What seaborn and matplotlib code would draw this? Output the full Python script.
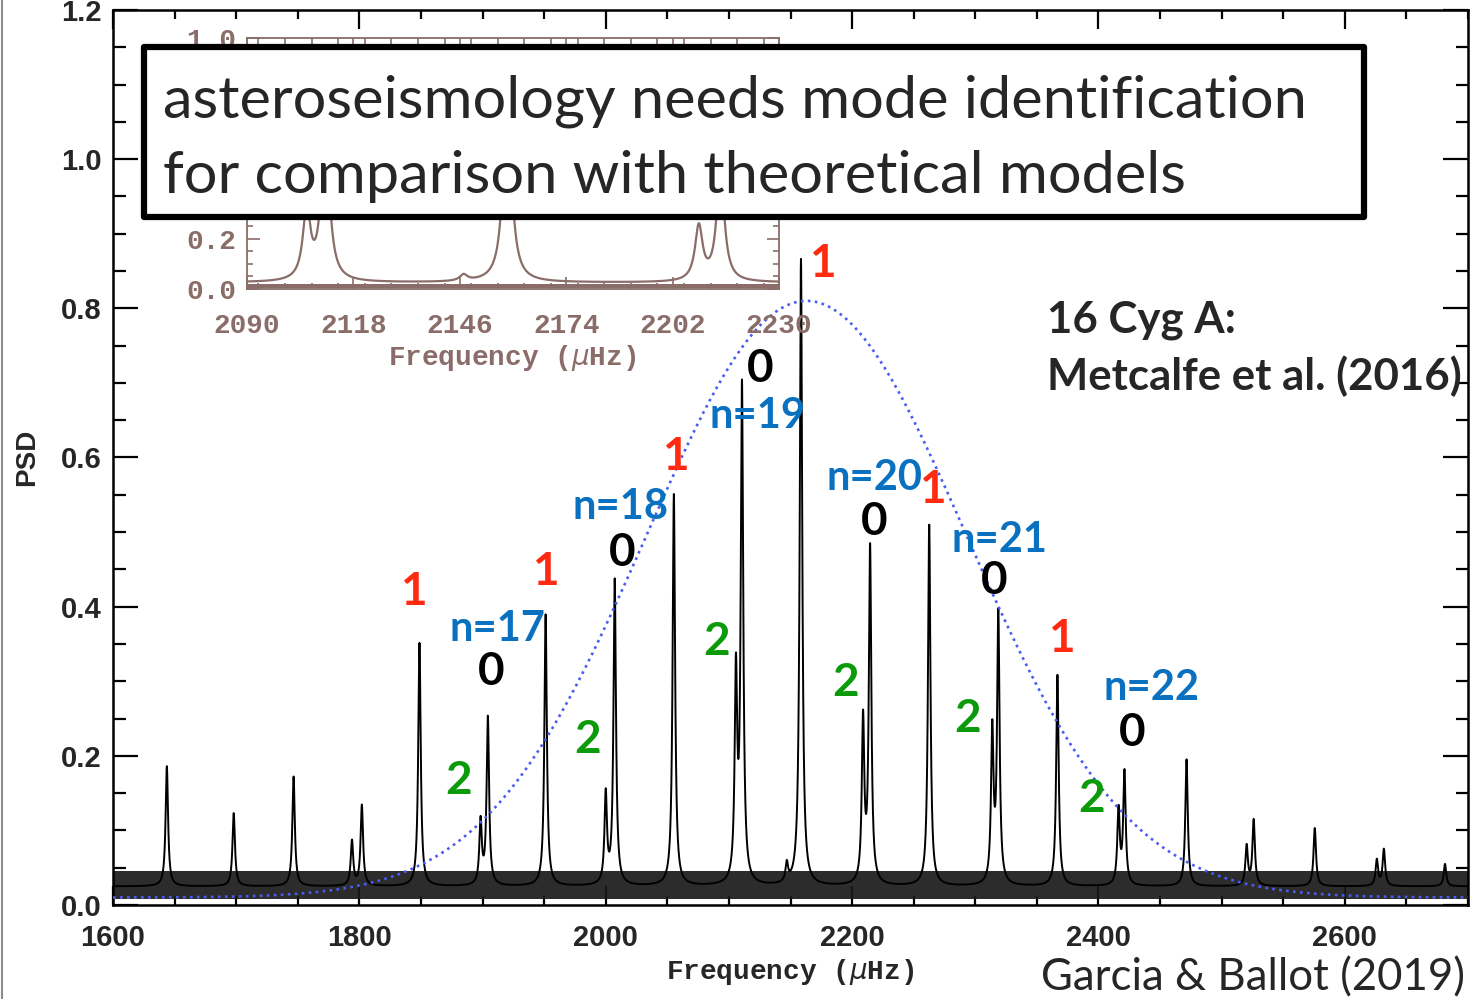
import numpy as np
import pandas as pd
import matplotlib
matplotlib.use("Agg")
import matplotlib.pyplot as plt
import seaborn as sns
from matplotlib.ticker import MultipleLocator, FixedLocator, FormatStrFormatter
from matplotlib.patches import Rectangle
from matplotlib.lines import Line2D

# ---------------------------------------------------------------
# 16 Cyg A power spectrum: resolved p-mode peaks
# ---------------------------------------------------------------
mode_freq = [1643.7, 1698.0, 1746.6, 1794.0, 1802.0, 1848.8, 1898.4, 1904.3,
             1951.2, 2000.0, 2007.3, 2055.3, 2105.7, 2110.6, 2147.0, 2158.5,
             2208.9, 2214.6, 2262.6, 2313.8, 2318.7, 2366.7, 2416.3, 2421.1,
             2471.5, 2520.3, 2526.0, 2575.6, 2626.0, 2631.7, 2681.3]
mode_psd = [0.186, 0.123, 0.172, 0.085, 0.133, 0.351, 0.110, 0.250,
            0.389, 0.145, 0.434, 0.550, 0.300, 0.688, 0.050, 0.865,
            0.242, 0.475, 0.509, 0.228, 0.386, 0.308, 0.125, 0.176,
            0.195, 0.078, 0.113, 0.103, 0.060, 0.074, 0.055]

# Gaussian envelope of the oscillation power
env_center = 2163.0
env_height = 0.80
env_sigma = 130.0
env_floor = 0.010

# Noise floor of the spectrum
noise_low = 0.008
noise_high = 0.045
background = 0.025
linewidth_uhz = 1.2

# Mode labels: angular degree, radial order
l1_text = ["1", "1", "1", "1", "1", "1"]
l0_text = ["0", "0", "0", "0", "0", "0"]
l2_text = ["2", "2", "2", "2", "2", "2"]
order_text = ["n=17", "n=18", "n=19", "n=20", "n=21", "n=22"]

# label anchor points (µHz, PSD)
l1_pos = [(1843.9, 0.419), (1951.2, 0.446), (2056.9, 0.601),
          (2175.6, 0.860), (2265.5, 0.557), (2369.9, 0.356)]
l0_pos = [(1907.3, 0.313), (2013.0, 0.472), (2125.2, 0.719),
          (2217.9, 0.514), (2315.4, 0.435), (2427.6, 0.231)]
l2_pos = [(1880.5, 0.166), (1985.4, 0.221), (2090.2, 0.352),
          (2194.3, 0.298), (2293.5, 0.250), (2394.3, 0.142)]
order_pos = [(1912.2, 0.370), (2012.2, 0.533), (2123.6, 0.656),
             (2218.5, 0.573), (2319.5, 0.490), (2443.1, 0.291)]

# ---------------------------------------------------------------
# Model spectrum: Lorentzian profiles on a flat background
# ---------------------------------------------------------------
freq = np.union1d(np.arange(1600.0, 2700.0, 0.05), np.array(mode_freq))
psd = np.full_like(freq, background)
for f0, h in zip(mode_freq, mode_psd):
    psd += (h - background) / (1.0 + ((freq - f0) / linewidth_uhz) ** 2)
spec = pd.DataFrame({"freq": freq, "psd": psd})

env_freq = np.linspace(1600, 2700, 800)
envelope = pd.DataFrame({
    "freq": env_freq,
    "psd": env_floor + env_height * np.exp(-0.5 * ((env_freq - env_center) / env_sigma) ** 2),
})

# ---------------------------------------------------------------
sns.set_theme(style="ticks")
plt.rcParams["font.family"] = ["Lato", "DejaVu Sans"]
plt.rcParams["axes.linewidth"] = 1.8

W, H = 1470, 999
fig = plt.figure(figsize=(W / 100, H / 100), dpi=100)
fig.patch.set_facecolor("white")

ax = fig.add_axes([113 / W, (H - 905) / H, 1355 / W, 895 / H])
ax.fill_between([1600, 2700], noise_low, noise_high, color="#1a1a1a",
                alpha=0.92, lw=0, zorder=2)
sns.lineplot(data=spec, x="freq", y="psd", ax=ax, color="black", lw=1.4,
             estimator=None, sort=False, zorder=3)
sns.lineplot(data=envelope, x="freq", y="psd", ax=ax, color="#4a5cf2", lw=1.9,
             linestyle=":", estimator=None, sort=False, zorder=4)

ax.set_xlim(1600, 2700)
ax.set_ylim(0, 1.2)
ax.xaxis.set_major_locator(FixedLocator([1600, 1800, 2000, 2200, 2400, 2600]))
ax.xaxis.set_minor_locator(MultipleLocator(50))
ax.yaxis.set_major_locator(MultipleLocator(0.2))
ax.yaxis.set_minor_locator(MultipleLocator(0.05))
ax.yaxis.set_major_formatter(FormatStrFormatter("%.1f"))
ax.tick_params(which="both", direction="in", top=True, right=True,
               width=1.6, color="black")
ax.tick_params(axis="x", which="major", length=14, pad=14)
ax.tick_params(axis="x", which="minor", length=6.5)
ax.tick_params(axis="y", which="major", length=18, pad=8)
ax.tick_params(axis="y", which="minor", length=9)
for lab in ax.get_xticklabels() + ax.get_yticklabels():
    lab.set_fontfamily("Liberation Sans")
    lab.set_fontweight("bold")
    lab.set_fontsize(21)
for sp in ax.spines.values():
    sp.set_linewidth(1.8)
    sp.set_color("black")

ax.set_xlabel(r"Frequency ($\mu$Hz)", fontfamily="Liberation Mono",
              fontweight="bold", fontsize=20)
ax.xaxis.set_label_coords(0.5, -(972 - 905) / 895)
ax.xaxis.label.set_va("center")
ax.set_ylabel("PSD", fontfamily="Liberation Sans", fontweight="bold", fontsize=20)
ax.yaxis.set_label_coords((27 - 113) / 1355, 0.5)
ax.yaxis.label.set_va("center")

# mode labels
lab_kw = dict(ha="center", va="center", fontweight="bold", zorder=6)
for t, (x, y) in zip(l1_text, l1_pos):
    ax.text(x, y, t, color="#ff2a12", fontsize=33, **lab_kw)
for t, (x, y) in zip(l0_text, l0_pos):
    ax.text(x, y, t, color="black", fontsize=33, **lab_kw)
for t, (x, y) in zip(l2_text, l2_pos):
    ax.text(x, y, t, color="#0a9a0a", fontsize=33, **lab_kw)
for t, (x, y) in zip(order_text, order_pos):
    ax.text(x, y, t, color="#0a70c0", fontsize=30, **lab_kw)

# ---------------------------------------------------------------
# Zoomed inset around the maximum
# ---------------------------------------------------------------
brown = "#8a6d68"
ins = fig.add_axes([247 / W, (H - 289) / H, 532 / W, 251 / H])
ins.fill_between([2090, 2230], 0.004, 0.018, color=brown, lw=0, zorder=2)
sns.lineplot(data=spec, x="freq", y="psd", ax=ins, color=brown, lw=1.6,
             estimator=None, sort=False, zorder=3)
ins.set_xlim(2090, 2230)
ins.set_ylim(0, 1.0)
ins.xaxis.set_major_locator(FixedLocator([2090, 2118, 2146, 2174, 2202, 2230]))
ins.xaxis.set_minor_locator(MultipleLocator(7))
ins.yaxis.set_major_locator(FixedLocator([0.0, 0.2, 1.0]))
ins.yaxis.set_minor_locator(MultipleLocator(0.05))
ins.yaxis.set_major_formatter(FormatStrFormatter("%.1f"))
ins.tick_params(which="both", direction="in", top=True, right=True,
                width=1.2, color=brown, labelcolor=brown)
ins.tick_params(axis="x", which="major", length=9, pad=17)
ins.tick_params(axis="x", which="minor", length=4)
ins.tick_params(axis="y", which="major", length=9, pad=8)
ins.tick_params(axis="y", which="minor", length=4)
for lab in ins.get_xticklabels() + ins.get_yticklabels():
    lab.set_fontfamily("Liberation Mono")
    lab.set_fontweight("bold")
    lab.set_fontsize(20)
for sp in ins.spines.values():
    sp.set_linewidth(1.3)
    sp.set_color(brown)
ins.set_xlabel(r"Frequency ($\mu$Hz)", fontfamily="Liberation Mono",
               fontweight="bold", fontsize=20, color=brown)
ins.xaxis.set_label_coords((512 - 247) / 532, -(358 - 289) / 251)
ins.xaxis.label.set_va("center")
ins.set_ylabel("")

# ---------------------------------------------------------------
# Annotations on the figure
# ---------------------------------------------------------------
box = Rectangle((144 / W, 1 - 217 / H), (1364 - 144) / W, (217 - 47) / H,
                transform=fig.transFigure, facecolor="white", edgecolor="black",
                lw=4.5, joinstyle="round", zorder=10)
fig.add_artist(box)
fig.text(163 / W, 1 - 117 / H, "asteroseismology needs mode identification",
         fontsize=42.8, va="baseline", ha="left", zorder=11)
fig.text(163 / W, 1 - 193 / H, "for comparison with theoretical models",
         fontsize=42.8, va="baseline", ha="left", zorder=11)

fig.text(1047 / W, 1 - 333 / H, "16 Cyg A:", fontsize=31.5, fontweight="bold",
         va="baseline", ha="left", zorder=5)
fig.text(1047 / W, 1 - 390 / H, "Metcalfe et al. (2016)", fontsize=31.5,
         fontweight="bold", va="baseline", ha="left", zorder=5)
fig.text(1041 / W, 1 - 990 / H, "Garcia & Ballot (2019)", fontsize=31.5,
         va="baseline", ha="left", zorder=5)

fig.add_artist(Line2D([1.5 / W, 1.5 / W], [0, 1], transform=fig.transFigure,
                      color="#8c8c8c", lw=1.5))

fig.savefig("out.png", dpi=100)
